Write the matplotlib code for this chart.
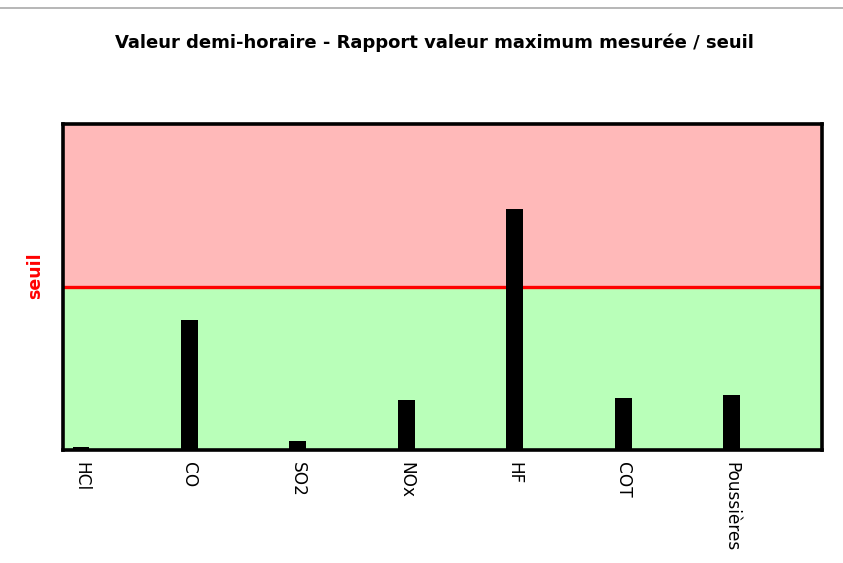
import numpy as np
import matplotlib
matplotlib.use('Agg')
import matplotlib.pyplot as plt
from matplotlib.lines import Line2D

# donnees : rapport valeur max mesuree / seuil
polluants = ['HCl', 'CO', 'SO2', 'NOx', 'HF', 'COT', 'Poussières']
rapports = [0.02, 0.80, 0.057, 0.31, 1.48, 0.32, 0.34]
seuil = 1.0
titre = 'Valeur demi-horaire - Rapport valeur maximum mesurée / seuil'

fig = plt.figure(figsize=(8.43, 5.63), dpi=100)
ax = fig.add_axes([63.3 / 843, 1 - 450 / 563, 758.5 / 843, 325.7 / 563])

x = np.arange(len(polluants))
ymax = 2 * seuil

# zones verte / rouge
ax.axhspan(0, seuil, color='#b9ffb9', zorder=0)
ax.axhspan(seuil, ymax, color='#ffb9b9', zorder=0)
ax.axhline(seuil, color='#ff0000', lw=2.4, zorder=1)

ax.bar(x, rapports, width=0.155, color='black', zorder=2)

ax.set_xlim(-0.163, 6.831)
ax.set_ylim(0, ymax)
ax.set_yticks([])
ax.set_xticks(x)
ax.set_xticklabels(polluants, rotation=270, fontsize=12.2, va='top', ha='center')
ax.tick_params(axis='x', length=0, pad=9)
for s in ax.spines.values():
    s.set_linewidth(2.6)
    s.set_color('black')
    s.set_zorder(5)

fig.text(35 / 843, 1 - 276 / 563, 'seuil', color='#ff0000', fontweight='bold',
         fontsize=12.5, rotation=90, ha='center', va='center')
fig.text(434 / 843, 1 - 43 / 563, titre, fontweight='bold', fontsize=13,
         ha='center', va='center')

# ligne grise en haut
fig.add_artist(Line2D([0, 1], [1 - 8 / 563, 1 - 8 / 563], color='#aaaaaa', lw=1.2,
                      transform=fig.transFigure))

fig.savefig('out.png', dpi=100)
